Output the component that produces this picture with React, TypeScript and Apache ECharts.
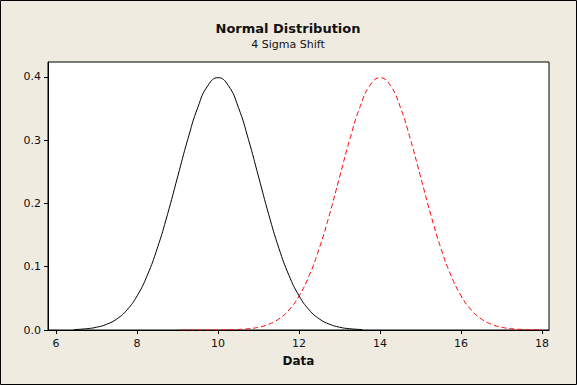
import React, { useEffect, useRef } from "react";
import * as echarts from "echarts";

const xTicks = [6, 8, 10, 12, 14, 16, 18];
const yTicks = [0.0, 0.1, 0.2, 0.3, 0.4];

const blackX = [6.44, 6.75, 7, 7.25, 7.5, 7.75, 8, 8.25, 8.5, 8.75, 9, 9.25, 9.5, 9.75, 10, 10.25, 10.5, 10.75, 11, 11.25, 11.5, 11.75, 12, 12.25, 12.5, 12.75, 13, 13.25, 13.56];
const blackY = [0.0007, 0.002, 0.0044, 0.0091, 0.0175, 0.0317, 0.054, 0.0863, 0.1295, 0.1826, 0.242, 0.3011, 0.3521, 0.3867, 0.3989, 0.3867, 0.3521, 0.3011, 0.242, 0.1826, 0.1295, 0.0863, 0.054, 0.0317, 0.0175, 0.0091, 0.0044, 0.002, 0.0007];

const redX = [9.09, 9.5, 10, 10.5, 10.75, 11, 11.25, 11.5, 11.75, 12, 12.25, 12.5, 12.75, 13, 13.25, 13.5, 13.75, 14, 14.25, 14.5, 14.75, 15, 15.25, 15.5, 15.75, 16, 16.25, 16.5, 16.75, 17, 17.25, 17.5, 17.75, 18];
const redY = [0.0, 0.0, 0.0001, 0.0009, 0.002, 0.0044, 0.0091, 0.0175, 0.0317, 0.054, 0.0863, 0.1295, 0.1826, 0.242, 0.3011, 0.3521, 0.3867, 0.3989, 0.3867, 0.3521, 0.3011, 0.242, 0.1826, 0.1295, 0.0863, 0.054, 0.0317, 0.0175, 0.0091, 0.0044, 0.002, 0.0009, 0.0004, 0.0001];

const FONT = "DejaVu Sans";

export default function App() {
  const ref = useRef<HTMLDivElement>(null);
  useEffect(() => {
    const chart = echarts.init(ref.current!, null, { renderer: "svg" });
    chart.setOption({
      animation: false,
      backgroundColor: "#EFEBE1",
      textStyle: { fontFamily: FONT },
      graphic: [
        {
          type: "rect",
          shape: { x: 0.5, y: 0.5, width: 576, height: 384 },
          style: { fill: "none", stroke: "#000", lineWidth: 1 },
          silent: true,
        },
        {
          type: "text",
          x: 288,
          y: 28,
          style: { text: "Normal Distribution", fontFamily: FONT, fontWeight: "bold", fontSize: 13, fill: "#111", textAlign: "center", textVerticalAlign: "middle" },
        },
        {
          type: "text",
          x: 288,
          y: 44,
          style: { text: "4 Sigma Shift", fontFamily: FONT, fontSize: 11, fill: "#111", textAlign: "center", textVerticalAlign: "middle" },
        },
      ],
      grid: {
        left: 48,
        top: 62,
        width: 501,
        height: 268,
        show: true,
        backgroundColor: "#fff",
        borderColor: "#000",
        borderWidth: 1,
      },
      xAxis: {
        type: "value",
        min: 5.8,
        max: 18.17,
        name: "Data",
        nameLocation: "middle",
        nameGap: 25,
        nameTextStyle: { fontFamily: FONT, fontWeight: "bold", fontSize: 12, color: "#111" },
        axisLine: { show: true, lineStyle: { color: "#000" } },
        axisTick: { show: true, length: 4, customValues: xTicks, lineStyle: { color: "#000" } },
        axisLabel: { customValues: xTicks, color: "#111", fontSize: 11, margin: 8, fontFamily: FONT },
        splitLine: { show: false },
      },
      yAxis: {
        type: "value",
        min: 0,
        max: 0.4237,
        axisLine: { show: true, lineStyle: { color: "#000" } },
        axisTick: { show: true, length: 4, customValues: yTicks, lineStyle: { color: "#000" } },
        axisLabel: { customValues: yTicks, color: "#111", fontSize: 11, margin: 7, fontFamily: FONT, formatter: (v: number) => v.toFixed(1) },
        splitLine: { show: false },
      },
      series: [
        {
          type: "line",
          data: blackX.map((x, i) => [x, blackY[i]]),
          smooth: true,
          symbol: "none",
          lineStyle: { color: "#000", width: 1 },
        },
        {
          type: "line",
          data: redX.map((x, i) => [x, redY[i]]),
          smooth: true,
          symbol: "none",
          lineStyle: { color: "#f00", width: 1, type: [5, 3] },
        },
      ],
    });
    return () => chart.dispose();
  }, []);
  return <div ref={ref} style={{ position: "fixed", left: 0, top: 0, width: 577, height: 385 }} />;
}
